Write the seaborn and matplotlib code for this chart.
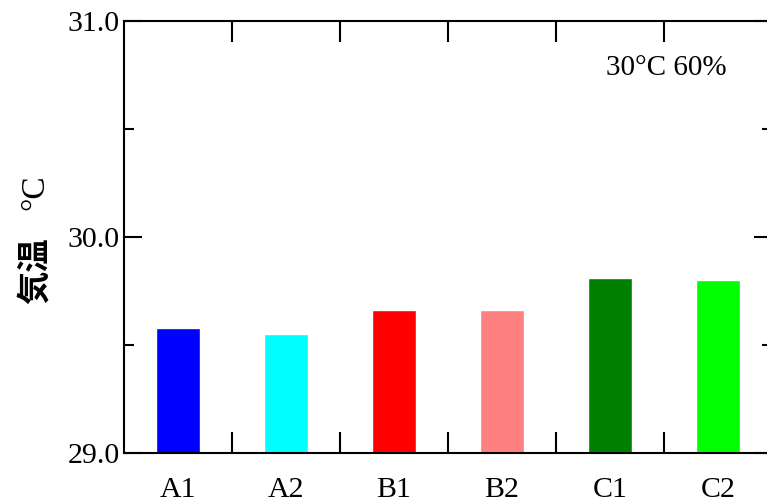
import matplotlib
matplotlib.use("Agg")
import matplotlib.pyplot as plt
import seaborn as sns
import pandas as pd
from matplotlib.ticker import MultipleLocator, FixedLocator

# data
categories = ["A1", "A2", "B1", "B2", "C1", "C2"]
temps = [29.58, 29.55, 29.66, 29.66, 29.81, 29.80]
colors = ["#0000FF", "#00FFFF", "#FF0000", "#FF8080", "#008000", "#00FF00"]
condition_label = "30°C 60%"

sns.set_theme(style="white")
plt.rcParams["font.family"] = ["Liberation Serif", "DejaVu Serif"]
plt.rcParams["text.color"] = "black"
plt.rcParams["xtick.color"] = "black"
plt.rcParams["ytick.color"] = "black"

df = pd.DataFrame({"cat": categories, "temp": temps})

fig = plt.figure(figsize=(7.67, 5.03), dpi=100)
W, H = 767, 503
ax = fig.add_axes([124 / W, (H - 453) / H, (772 - 124) / W, (453 - 21) / H])

sns.barplot(data=df, x="cat", y="temp", hue="cat", palette=colors,
            width=0.4, legend=False, ax=ax, saturation=1)

ax.set_ylim(29.0, 31.0)
ax.set_xlim(-0.5, len(categories) - 0.5)
ax.yaxis.set_major_locator(MultipleLocator(1.0))
ax.yaxis.set_minor_locator(MultipleLocator(0.5))
ax.yaxis.set_major_formatter(matplotlib.ticker.FormatStrFormatter("%.1f"))

for s in ax.spines.values():
    s.set_visible(True)
    s.set_color("black")
    s.set_linewidth(1.5)

# category labels without ticks, tick marks at category boundaries
ax.tick_params(axis="x", which="major", length=0, pad=17, labelsize=21.5,
               labelcolor="black")
ax.xaxis.set_minor_locator(FixedLocator([i + 0.5 for i in range(len(categories) - 1)]))
ax.tick_params(axis="x", which="minor", direction="in", length=15, width=1.5,
               top=True, bottom=True, color="black")
ax.tick_params(axis="y", which="major", direction="in", length=13, width=1.5,
               left=True, right=True, labelsize=21.5, pad=3, labelcolor="black",
               color="black")
ax.tick_params(axis="y", which="minor", direction="in", length=7, width=1.5,
               left=True, right=True, color="black")

ax.set_xlabel("")
ax.set_ylabel("")

ax.text((666 - 124) / 648, (453 - 68) / 432, condition_label,
        transform=ax.transAxes, ha="center", va="center", fontsize=21,
        color="black")

# vertical axis title: Japanese word in gothic, unit in serif
fig.text(35 / W, 1 - 271 / H, "気温", rotation=90, ha="center", va="center",
         fontsize=24, fontweight="bold", color="black",
         family=["Noto Sans CJK JP"])
fig.text(35 / W, 1 - 192 / H, "°C", rotation=90, ha="center", va="center",
         fontsize=24, color="black", family=["Liberation Serif"])

fig.savefig("out.png", dpi=100)
